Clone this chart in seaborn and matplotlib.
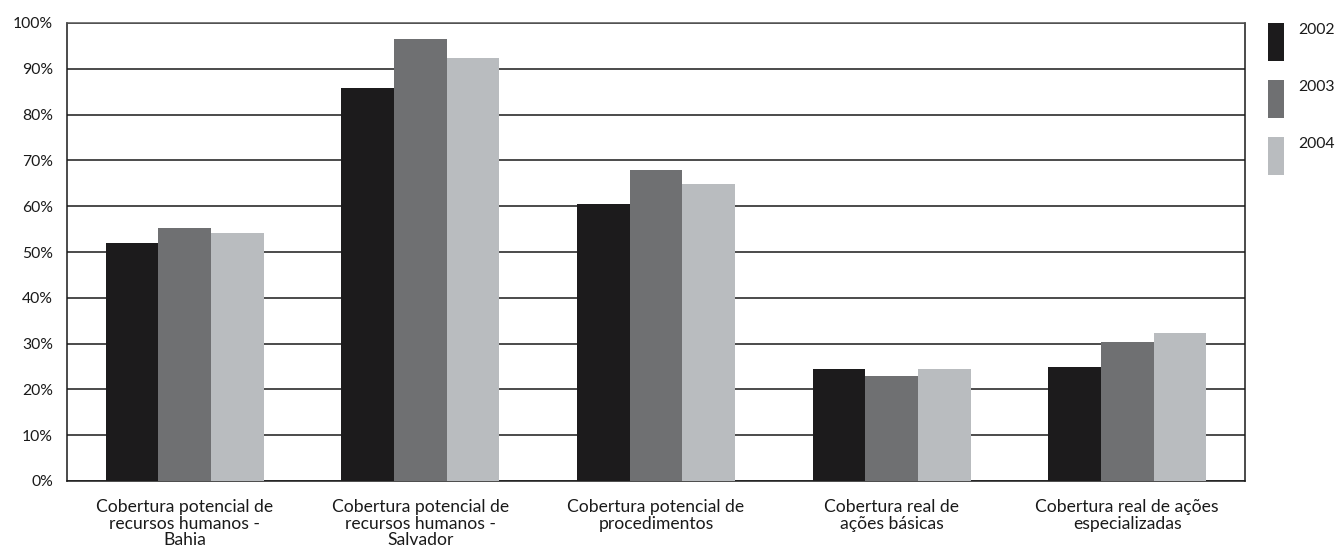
import matplotlib
matplotlib.use("Agg")
import matplotlib.pyplot as plt
from matplotlib.patches import Rectangle
from matplotlib.ticker import PercentFormatter
import pandas as pd
import seaborn as sns

categorias = [
    "Cobertura potencial de\nrecursos humanos -\nBahia",
    "Cobertura potencial de\nrecursos humanos -\nSalvador",
    "Cobertura potencial de\nprocedimentos",
    "Cobertura real de\nações básicas",
    "Cobertura real de ações\nespecializadas",
]
anos = ["2002", "2003", "2004"]
valores_2002 = [52.0, 85.8, 60.5, 24.5, 24.9]
valores_2003 = [55.2, 96.5, 67.9, 22.9, 30.3]
valores_2004 = [54.1, 92.4, 64.8, 24.5, 32.3]
cores = ["#1c1b1c", "#6f7072", "#b9bcbf"]

df = pd.DataFrame({
    "categoria": categorias * 3,
    "ano": [a for a in anos for _ in categorias],
    "valor": valores_2002 + valores_2003 + valores_2004,
})

sns.set_theme(style="white")
plt.rcParams["font.family"] = ["Lato", "DejaVu Sans"]

fig = plt.figure(figsize=(13.37, 5.49), dpi=100)
ax = fig.add_axes([67 / 1337, 1 - 481 / 549, (1245 - 67) / 1337, (481 - 23) / 549])

sns.barplot(data=df, x="categoria", y="valor", hue="ano", palette=cores,
            width=0.67, gap=0, saturation=1, linewidth=0, edgecolor="none",
            legend=False, ax=ax, zorder=3)

ax.set_ylim(0, 100)
ax.set_xlim(-0.5, len(categorias) - 0.5)
ax.set_yticks(range(0, 101, 10))
ax.yaxis.set_major_formatter(PercentFormatter(decimals=0))
ax.grid(axis="y", color="#1a1a1a", linewidth=1.1, zorder=0)
ax.grid(axis="x", visible=False)
ax.set_axisbelow(True)
ax.set_xlabel("")
ax.set_ylabel("")

for lado in ["left", "right", "bottom", "top"]:
    ax.spines[lado].set_visible(True)
    ax.spines[lado].set_color("#1a1a1a")
    ax.spines[lado].set_linewidth(1.1)
ax.spines["top"].set_color("#555555")

ax.tick_params(axis="y", length=0, pad=10, labelsize=11.3, labelcolor="#1a1a1a")
ax.tick_params(axis="x", which="major", length=0, pad=13, labelsize=12.6,
               labelcolor="#1a1a1a")
ax.set_xticks([i + 0.5 for i in range(len(categorias) - 1)], minor=True)
ax.tick_params(axis="x", which="minor", direction="in", length=8, width=1.0,
               color="#1a1a1a")
for rotulo in ax.get_xticklabels():
    rotulo.set_linespacing(1.05)

# legenda com blocos verticais à direita
for i, (ano, cor) in enumerate(zip(anos, cores)):
    y_topo = 23 + i * 57
    fig.add_artist(Rectangle((1268 / 1337, 1 - (y_topo + 38) / 549),
                             16 / 1337, 38 / 549, transform=fig.transFigure,
                             facecolor=cor, edgecolor="none"))
    fig.text(1298 / 1337, 1 - (y_topo) / 549, ano, ha="left", va="top",
             fontsize=11.3, color="#1a1a1a")

fig.savefig("out.png", dpi=100)
